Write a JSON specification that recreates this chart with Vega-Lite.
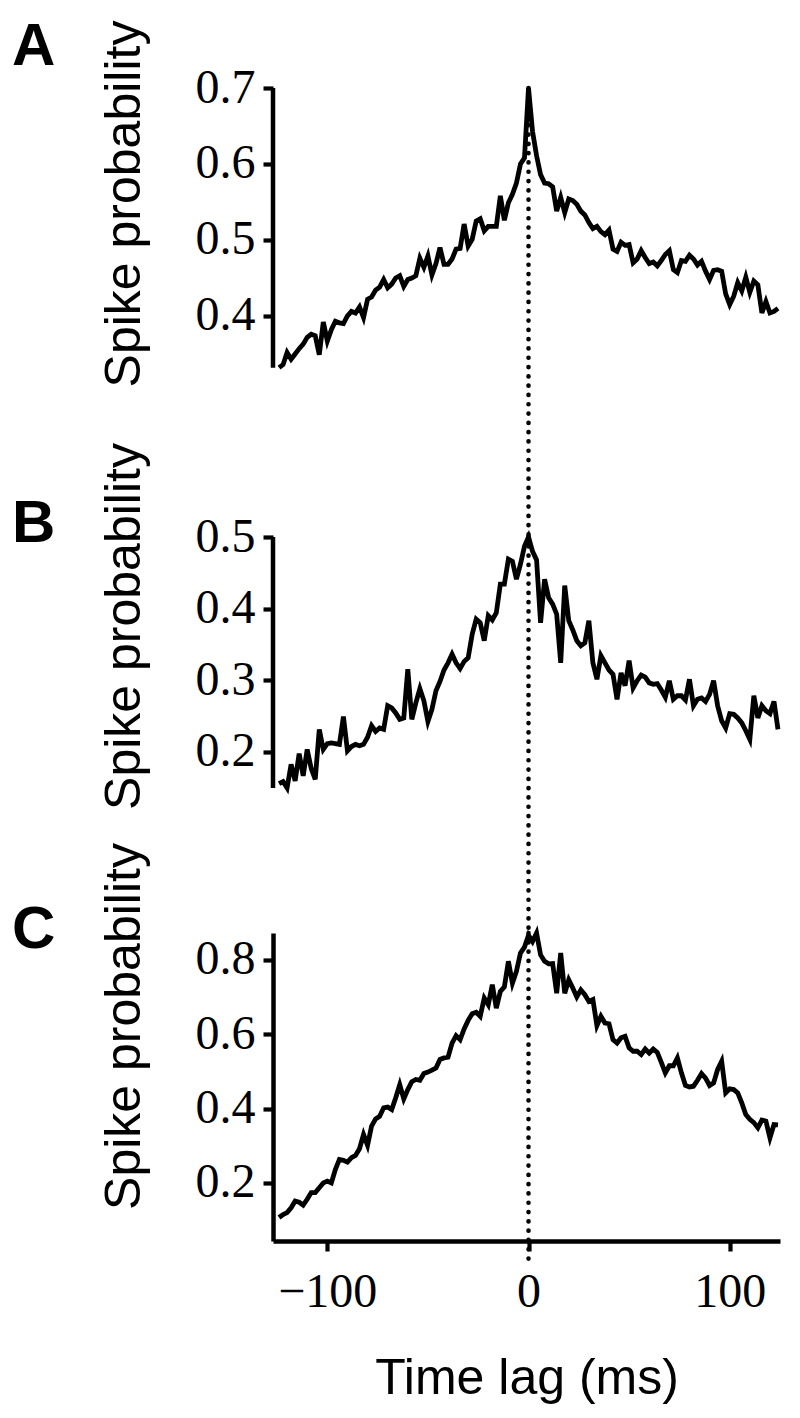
{
  "$schema": "https://vega.github.io/schema/vega-lite/v6.json",
  "background": "white",
  "padding": {"left": 12, "top": 16, "right": 10, "bottom": 5},
  "spacing": 0,
  "bounds": "flush",
  "config": {
    "view": {"stroke": null},
    "axis": {"grid": false, "labelFont": "Liberation Serif", "labelFontSize": 48, "labelColor": "#000", "tickColor": "#000", "tickWidth": 4.2, "tickSize": 10, "domainColor": "#000", "domainWidth": 4.5, "titleFont": "Liberation Sans", "titleFontSize": 50, "titleFontWeight": "normal", "titleColor": "#000", "labelFlush": false, "labelOverlap": false},
    "axisY": {"labelPadding": 8},
    "axisX": {"labelPadding": 17},
    "title": {"font": "Liberation Sans", "fontSize": 60, "fontWeight": "bold", "color": "#000", "anchor": "start", "frame": "group", "offset": 0, "baseline": "alphabetic", "dx": -261}
  },
  "datasets": {
    "A": [{"lag":-124,"prob":0.332},{"lag":-122,"prob":0.336},{"lag":-120,"prob":0.352},{"lag":-118,"prob":0.343},{"lag":-116,"prob":0.350},{"lag":-114,"prob":0.357},{"lag":-112,"prob":0.363},{"lag":-110,"prob":0.372},{"lag":-108,"prob":0.376},{"lag":-106,"prob":0.374},{"lag":-104,"prob":0.349},{"lag":-102,"prob":0.392},{"lag":-100,"prob":0.367},{"lag":-98,"prob":0.382},{"lag":-96,"prob":0.393},{"lag":-94,"prob":0.391},{"lag":-92,"prob":0.390},{"lag":-90,"prob":0.400},{"lag":-88,"prob":0.406},{"lag":-86,"prob":0.404},{"lag":-84,"prob":0.412},{"lag":-82,"prob":0.398},{"lag":-80,"prob":0.422},{"lag":-78,"prob":0.425},{"lag":-76,"prob":0.434},{"lag":-74,"prob":0.438},{"lag":-72,"prob":0.448},{"lag":-70,"prob":0.437},{"lag":-68,"prob":0.442},{"lag":-66,"prob":0.450},{"lag":-64,"prob":0.453},{"lag":-62,"prob":0.439},{"lag":-60,"prob":0.448},{"lag":-58,"prob":0.450},{"lag":-56,"prob":0.453},{"lag":-54,"prob":0.476},{"lag":-52,"prob":0.464},{"lag":-50,"prob":0.479},{"lag":-48,"prob":0.454},{"lag":-46,"prob":0.469},{"lag":-44,"prob":0.490},{"lag":-42,"prob":0.468},{"lag":-40,"prob":0.468},{"lag":-38,"prob":0.475},{"lag":-36,"prob":0.488},{"lag":-34,"prob":0.489},{"lag":-32,"prob":0.521},{"lag":-30,"prob":0.492},{"lag":-28,"prob":0.501},{"lag":-26,"prob":0.525},{"lag":-24,"prob":0.528},{"lag":-22,"prob":0.512},{"lag":-20,"prob":0.518},{"lag":-18,"prob":0.518},{"lag":-16,"prob":0.518},{"lag":-14,"prob":0.558},{"lag":-12,"prob":0.526},{"lag":-10,"prob":0.549},{"lag":-8,"prob":0.560},{"lag":-6,"prob":0.575},{"lag":-4,"prob":0.600},{"lag":-2,"prob":0.608},{"lag":0,"prob":0.700},{"lag":2,"prob":0.643},{"lag":4,"prob":0.611},{"lag":6,"prob":0.586},{"lag":8,"prob":0.575},{"lag":10,"prob":0.574},{"lag":12,"prob":0.570},{"lag":14,"prob":0.538},{"lag":16,"prob":0.556},{"lag":18,"prob":0.536},{"lag":20,"prob":0.554},{"lag":22,"prob":0.552},{"lag":24,"prob":0.547},{"lag":26,"prob":0.538},{"lag":28,"prob":0.533},{"lag":30,"prob":0.523},{"lag":32,"prob":0.515},{"lag":34,"prob":0.518},{"lag":36,"prob":0.511},{"lag":38,"prob":0.507},{"lag":40,"prob":0.513},{"lag":42,"prob":0.488},{"lag":44,"prob":0.485},{"lag":46,"prob":0.497},{"lag":48,"prob":0.493},{"lag":50,"prob":0.494},{"lag":52,"prob":0.470},{"lag":54,"prob":0.475},{"lag":56,"prob":0.486},{"lag":58,"prob":0.477},{"lag":60,"prob":0.469},{"lag":62,"prob":0.471},{"lag":64,"prob":0.466},{"lag":66,"prob":0.473},{"lag":68,"prob":0.481},{"lag":70,"prob":0.486},{"lag":72,"prob":0.461},{"lag":74,"prob":0.457},{"lag":76,"prob":0.473},{"lag":78,"prob":0.472},{"lag":80,"prob":0.480},{"lag":82,"prob":0.475},{"lag":84,"prob":0.467},{"lag":86,"prob":0.472},{"lag":88,"prob":0.459},{"lag":90,"prob":0.448},{"lag":92,"prob":0.460},{"lag":94,"prob":0.461},{"lag":96,"prob":0.459},{"lag":98,"prob":0.429},{"lag":100,"prob":0.415},{"lag":102,"prob":0.426},{"lag":104,"prob":0.444},{"lag":106,"prob":0.433},{"lag":108,"prob":0.451},{"lag":110,"prob":0.431},{"lag":112,"prob":0.446},{"lag":114,"prob":0.441},{"lag":116,"prob":0.404},{"lag":118,"prob":0.419},{"lag":120,"prob":0.404},{"lag":122,"prob":0.406},{"lag":124,"prob":0.410}],
    "B": [{"lag":-124,"prob":0.155},{"lag":-122,"prob":0.158},{"lag":-120,"prob":0.149},{"lag":-118,"prob":0.182},{"lag":-116,"prob":0.159},{"lag":-114,"prob":0.197},{"lag":-112,"prob":0.166},{"lag":-110,"prob":0.203},{"lag":-108,"prob":0.176},{"lag":-106,"prob":0.161},{"lag":-104,"prob":0.231},{"lag":-102,"prob":0.203},{"lag":-100,"prob":0.211},{"lag":-98,"prob":0.212},{"lag":-96,"prob":0.211},{"lag":-94,"prob":0.210},{"lag":-92,"prob":0.249},{"lag":-90,"prob":0.201},{"lag":-88,"prob":0.207},{"lag":-86,"prob":0.210},{"lag":-84,"prob":0.208},{"lag":-82,"prob":0.210},{"lag":-80,"prob":0.220},{"lag":-78,"prob":0.236},{"lag":-76,"prob":0.228},{"lag":-74,"prob":0.233},{"lag":-72,"prob":0.231},{"lag":-70,"prob":0.264},{"lag":-68,"prob":0.261},{"lag":-66,"prob":0.254},{"lag":-64,"prob":0.245},{"lag":-62,"prob":0.247},{"lag":-60,"prob":0.315},{"lag":-58,"prob":0.245},{"lag":-56,"prob":0.268},{"lag":-54,"prob":0.288},{"lag":-52,"prob":0.271},{"lag":-50,"prob":0.242},{"lag":-48,"prob":0.259},{"lag":-46,"prob":0.285},{"lag":-44,"prob":0.298},{"lag":-42,"prob":0.314},{"lag":-40,"prob":0.324},{"lag":-38,"prob":0.336},{"lag":-36,"prob":0.324},{"lag":-34,"prob":0.316},{"lag":-32,"prob":0.326},{"lag":-30,"prob":0.331},{"lag":-28,"prob":0.364},{"lag":-26,"prob":0.385},{"lag":-24,"prob":0.380},{"lag":-22,"prob":0.355},{"lag":-20,"prob":0.390},{"lag":-18,"prob":0.384},{"lag":-16,"prob":0.394},{"lag":-14,"prob":0.434},{"lag":-12,"prob":0.434},{"lag":-10,"prob":0.469},{"lag":-8,"prob":0.466},{"lag":-6,"prob":0.441},{"lag":-4,"prob":0.462},{"lag":-2,"prob":0.487},{"lag":0,"prob":0.500},{"lag":2,"prob":0.480},{"lag":4,"prob":0.468},{"lag":6,"prob":0.380},{"lag":8,"prob":0.441},{"lag":10,"prob":0.415},{"lag":12,"prob":0.406},{"lag":14,"prob":0.392},{"lag":16,"prob":0.324},{"lag":18,"prob":0.432},{"lag":20,"prob":0.383},{"lag":22,"prob":0.370},{"lag":24,"prob":0.355},{"lag":26,"prob":0.348},{"lag":28,"prob":0.352},{"lag":30,"prob":0.383},{"lag":32,"prob":0.324},{"lag":34,"prob":0.301},{"lag":36,"prob":0.334},{"lag":38,"prob":0.324},{"lag":40,"prob":0.314},{"lag":42,"prob":0.308},{"lag":44,"prob":0.273},{"lag":46,"prob":0.310},{"lag":48,"prob":0.292},{"lag":50,"prob":0.327},{"lag":52,"prob":0.289},{"lag":54,"prob":0.299},{"lag":56,"prob":0.307},{"lag":58,"prob":0.304},{"lag":60,"prob":0.296},{"lag":62,"prob":0.294},{"lag":64,"prob":0.295},{"lag":66,"prob":0.286},{"lag":68,"prob":0.276},{"lag":70,"prob":0.299},{"lag":72,"prob":0.273},{"lag":74,"prob":0.278},{"lag":76,"prob":0.278},{"lag":78,"prob":0.272},{"lag":80,"prob":0.301},{"lag":82,"prob":0.264},{"lag":84,"prob":0.273},{"lag":86,"prob":0.275},{"lag":88,"prob":0.270},{"lag":90,"prob":0.280},{"lag":92,"prob":0.299},{"lag":94,"prob":0.264},{"lag":96,"prob":0.243},{"lag":98,"prob":0.233},{"lag":100,"prob":0.253},{"lag":102,"prob":0.252},{"lag":104,"prob":0.247},{"lag":106,"prob":0.240},{"lag":108,"prob":0.229},{"lag":110,"prob":0.217},{"lag":112,"prob":0.278},{"lag":114,"prob":0.247},{"lag":116,"prob":0.264},{"lag":118,"prob":0.257},{"lag":120,"prob":0.253},{"lag":122,"prob":0.270},{"lag":124,"prob":0.231}],
    "C": [{"lag":-124,"prob":0.107},{"lag":-122,"prob":0.115},{"lag":-120,"prob":0.120},{"lag":-118,"prob":0.133},{"lag":-116,"prob":0.151},{"lag":-114,"prob":0.148},{"lag":-112,"prob":0.140},{"lag":-110,"prob":0.156},{"lag":-108,"prob":0.174},{"lag":-106,"prob":0.174},{"lag":-104,"prob":0.187},{"lag":-102,"prob":0.200},{"lag":-100,"prob":0.205},{"lag":-98,"prob":0.200},{"lag":-96,"prob":0.236},{"lag":-94,"prob":0.263},{"lag":-92,"prob":0.261},{"lag":-90,"prob":0.256},{"lag":-88,"prob":0.268},{"lag":-86,"prob":0.274},{"lag":-84,"prob":0.292},{"lag":-82,"prob":0.330},{"lag":-80,"prob":0.301},{"lag":-78,"prob":0.353},{"lag":-76,"prob":0.372},{"lag":-74,"prob":0.379},{"lag":-72,"prob":0.402},{"lag":-70,"prob":0.404},{"lag":-68,"prob":0.397},{"lag":-66,"prob":0.429},{"lag":-64,"prob":0.464},{"lag":-62,"prob":0.426},{"lag":-60,"prob":0.451},{"lag":-58,"prob":0.472},{"lag":-56,"prob":0.478},{"lag":-54,"prob":0.476},{"lag":-52,"prob":0.494},{"lag":-50,"prob":0.498},{"lag":-48,"prob":0.503},{"lag":-46,"prob":0.509},{"lag":-44,"prob":0.532},{"lag":-42,"prob":0.536},{"lag":-40,"prob":0.538},{"lag":-38,"prob":0.576},{"lag":-36,"prob":0.596},{"lag":-34,"prob":0.585},{"lag":-32,"prob":0.614},{"lag":-30,"prob":0.637},{"lag":-28,"prob":0.655},{"lag":-26,"prob":0.659},{"lag":-24,"prob":0.648},{"lag":-22,"prob":0.697},{"lag":-20,"prob":0.679},{"lag":-18,"prob":0.733},{"lag":-16,"prob":0.670},{"lag":-14,"prob":0.715},{"lag":-12,"prob":0.727},{"lag":-10,"prob":0.796},{"lag":-8,"prob":0.737},{"lag":-6,"prob":0.769},{"lag":-4,"prob":0.818},{"lag":-2,"prob":0.834},{"lag":0,"prob":0.866},{"lag":2,"prob":0.849},{"lag":4,"prob":0.872},{"lag":6,"prob":0.813},{"lag":8,"prob":0.796},{"lag":10,"prob":0.789},{"lag":12,"prob":0.790},{"lag":14,"prob":0.710},{"lag":16,"prob":0.818},{"lag":18,"prob":0.710},{"lag":20,"prob":0.746},{"lag":22,"prob":0.724},{"lag":24,"prob":0.700},{"lag":26,"prob":0.719},{"lag":28,"prob":0.706},{"lag":30,"prob":0.688},{"lag":32,"prob":0.693},{"lag":34,"prob":0.623},{"lag":36,"prob":0.648},{"lag":38,"prob":0.630},{"lag":40,"prob":0.628},{"lag":42,"prob":0.585},{"lag":44,"prob":0.576},{"lag":46,"prob":0.590},{"lag":48,"prob":0.594},{"lag":50,"prob":0.563},{"lag":52,"prob":0.554},{"lag":54,"prob":0.554},{"lag":56,"prob":0.545},{"lag":58,"prob":0.560},{"lag":60,"prob":0.549},{"lag":62,"prob":0.560},{"lag":64,"prob":0.551},{"lag":66,"prob":0.524},{"lag":68,"prob":0.496},{"lag":70,"prob":0.515},{"lag":72,"prob":0.515},{"lag":74,"prob":0.536},{"lag":76,"prob":0.496},{"lag":78,"prob":0.462},{"lag":80,"prob":0.458},{"lag":82,"prob":0.460},{"lag":84,"prob":0.476},{"lag":86,"prob":0.494},{"lag":88,"prob":0.482},{"lag":90,"prob":0.462},{"lag":92,"prob":0.469},{"lag":94,"prob":0.505},{"lag":96,"prob":0.527},{"lag":98,"prob":0.442},{"lag":100,"prob":0.453},{"lag":102,"prob":0.451},{"lag":104,"prob":0.442},{"lag":106,"prob":0.415},{"lag":108,"prob":0.384},{"lag":110,"prob":0.371},{"lag":112,"prob":0.362},{"lag":114,"prob":0.348},{"lag":116,"prob":0.369},{"lag":118,"prob":0.366},{"lag":120,"prob":0.321},{"lag":122,"prob":0.357},{"lag":124,"prob":0.356}]
  },
  "resolve": {"scale": {"x": "independent", "y": "independent"}, "axis": {"x": "independent", "y": "independent"}},
  "vconcat": [
    {
      "width": 507, "height": 449,
      "title": {"text": "A", "dy": 61.5},
      "layer": [
        {
          "data": {"name": "A"},
          "mark": {"type": "line", "color": "#000", "strokeWidth": 4.8},
          "encoding": {
            "x": {"field": "lag", "type": "quantitative", "scale": {"domain": [-127, 125], "nice": false, "zero": false}, "axis": null},
            "y": {"field": "prob", "type": "quantitative", "title": "Spike probability", "scale": {"domain": [0.1092, 0.7], "nice": false, "zero": false}, "axis": {"values": [0.4, 0.5, 0.6, 0.7], "format": ".1f", "domain": false, "titleX": -124, "titleY": 115.5, "titleAngle": 270, "titleBaseline": "bottom"}}
          }
        },
        {
          "data": {"name": "A"},
          "mark": {"type": "rule", "color": "#000", "strokeWidth": 4.5},
          "encoding": {
            "x": {"datum": -127, "axis": null},
            "y": {"aggregate": "min", "field": "prob", "type": "quantitative", "title": "Spike probability"},
            "y2": {"aggregate": "max", "field": "prob"}
          }
        },
        {
          "data": {"values": [{"lag": 0}]},
          "mark": {"type": "rule", "color": "#000", "strokeWidth": 4.6, "strokeDash": [0.1, 9.2], "strokeCap": "round"},
          "encoding": {"x": {"field": "lag", "type": "quantitative", "axis": null}}
        }
      ]
    },
    {
      "width": 507, "height": 396,
      "title": {"text": "B", "dy": 116.5},
      "layer": [
        {
          "data": {"name": "B"},
          "mark": {"type": "line", "color": "#000", "strokeWidth": 4.8},
          "encoding": {
            "x": {"field": "lag", "type": "quantitative", "scale": {"domain": [-127, 125], "nice": false, "zero": false}, "axis": null},
            "y": {"field": "prob", "type": "quantitative", "title": "Spike probability", "scale": {"domain": [-0.0538, 0.5], "nice": false, "zero": false}, "axis": {"values": [0.2, 0.3, 0.4, 0.5], "format": ".1f", "domain": false, "titleX": -124, "titleY": 89, "titleAngle": 270, "titleBaseline": "bottom"}}
          }
        },
        {
          "data": {"name": "B"},
          "mark": {"type": "rule", "color": "#000", "strokeWidth": 4.5},
          "encoding": {
            "x": {"datum": -127, "axis": null},
            "y": {"aggregate": "min", "field": "prob", "type": "quantitative", "title": "Spike probability"},
            "y2": {"aggregate": "max", "field": "prob"}
          }
        },
        {
          "data": {"values": [{"lag": 0}]},
          "mark": {"type": "rule", "color": "#000", "strokeWidth": 4.6, "strokeDash": [0.1, 9.2], "strokeCap": "round"},
          "encoding": {"x": {"field": "lag", "type": "quantitative", "axis": null}}
        }
      ]
    },
    {
      "width": 507, "height": 308,
      "title": {"text": "C", "dy": 122},
      "layer": [
        {
          "data": {"name": "C"},
          "mark": {"type": "line", "color": "#000", "strokeWidth": 4.8},
          "encoding": {
            "x": {"field": "lag", "type": "quantitative", "title": "Time lag (ms)", "scale": {"domain": [-127, 125], "nice": false, "zero": false}, "axis": {"values": [-100, 0, 100], "format": "d", "tickSize": 10, "titleBaseline": "alphabetic", "titleY": 152}},
            "y": {"field": "prob", "type": "quantitative", "title": "Spike probability", "scale": {"domain": [0.0437, 0.872], "nice": false, "zero": false}, "axis": {"values": [0.2, 0.4, 0.6, 0.8], "format": ".1f", "titleX": -124, "titleY": 93, "titleAngle": 270, "titleBaseline": "bottom"}}
          }
        },
        {
          "data": {"values": [{"lag": 0, "top": 0.872, "bottom": -0.02}]},
          "mark": {"type": "rule", "color": "#000", "strokeWidth": 4.6, "strokeDash": [0.1, 9.2], "strokeCap": "round"},
          "encoding": {
            "x": {"field": "lag", "type": "quantitative", "title": "Time lag (ms)"},
            "y": {"field": "top", "type": "quantitative", "title": "Spike probability"},
            "y2": {"field": "bottom"}
          }
        }
      ]
    }
  ]
}
